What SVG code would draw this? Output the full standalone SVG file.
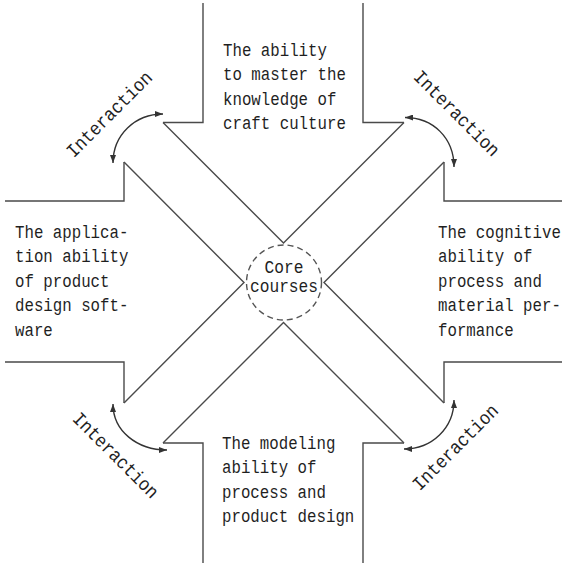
<svg xmlns="http://www.w3.org/2000/svg" width="562" height="563" viewBox="0 0 562 563">
  <style>
    .frame { fill: none; stroke: #4a4a4a; stroke-width: 1.4; stroke-linejoin: miter; }
    .band { fill: none; stroke: #4a4a4a; stroke-width: 1.4; }
    .arc { fill: none; stroke: #333; stroke-width: 1.4; marker-start: url(#ah); marker-end: url(#ah); }
    .txt { font-family: "Liberation Mono", "DejaVu Sans Mono", monospace; font-size: 19px; fill: #1f1f1f; }
    .lbl { font-family: "Liberation Mono", "DejaVu Sans Mono", monospace; font-size: 19px; fill: #1f1f1f; text-anchor: middle; dominant-baseline: central; }
    .core { fill: #fff; stroke: #555; stroke-width: 1.4; stroke-dasharray: 6 4; }
  </style>
  <defs>
    <marker id="ah" viewBox="0 0 8 6" refX="8" refY="3" markerWidth="8" markerHeight="6" markerUnits="userSpaceOnUse" orient="auto-start-reverse">
      <path d="M0,0 L8,3 L0,6 Z" fill="#333"/>
    </marker>
  </defs>
  <rect width="562" height="563" fill="#fff"/>

  <g id="frame">
    <path class="frame" d="M203,3 V122.5 H163"/>
    <path class="frame" d="M5,201 H124 V162"/>
    <path class="frame" d="M363,3 V122.5 H404"/>
    <path class="frame" d="M562,201 H444 V162"/>
    <path class="frame" d="M5,362 H124 V403"/>
    <path class="frame" d="M163,443 H203 V563"/>
    <path class="frame" d="M562,362 H444 V403"/>
    <path class="frame" d="M404,443 H363 V563"/>
  </g>

  <g id="connectors">
    <polyline class="band" points="163,122.5 283.5,243 404,122.5"/>
    <polyline class="band" points="444,162 324,282.5 444,403"/>
    <polyline class="band" points="163,443 283.5,322.5 404,443"/>
    <polyline class="band" points="124,162 244,282.5 124,403"/>
    <path class="arc" d="M113,163 C113,135 135,114 163,114"/>
    <path class="arc" d="M405,117.5 C433,117.5 454,138 454,167"/>
    <path class="arc" d="M113,404 C113,431 137,450 167,450"/>
    <path class="arc" d="M454,400 C454,428 432,449 404,449"/>
    <g transform="translate(110,115) rotate(-45) scale(0.9,1)"><text class="lbl" x="0" y="0">Interaction</text></g>
    <g transform="translate(456,114) rotate(45) scale(0.9,1)"><text class="lbl" x="0" y="0">Interaction</text></g>
    <g transform="translate(115,456) rotate(45) scale(0.9,1)"><text class="lbl" x="0" y="0">Interaction</text></g>
    <g transform="translate(456,448) rotate(-45) scale(0.9,1)"><text class="lbl" x="0" y="0">Interaction</text></g>
  </g>

  <g id="node-top" transform="translate(223,0) scale(0.83,1)">
    <text class="txt"><tspan x="0" y="56">The ability</tspan><tspan x="0" y="80.5">to master the</tspan><tspan x="0" y="105">knowledge of</tspan><tspan x="0" y="129.5">craft culture</tspan></text>
  </g>
  <g id="node-left" transform="translate(15,0) scale(0.83,1)">
    <text class="txt"><tspan x="0" y="238">The applica-</tspan><tspan x="0" y="262.5">tion ability</tspan><tspan x="0" y="287">of product</tspan><tspan x="0" y="311.5">design soft-</tspan><tspan x="0" y="336">ware</tspan></text>
  </g>
  <g id="node-right" transform="translate(438,0) scale(0.83,1)">
    <text class="txt"><tspan x="0" y="238">The cognitive</tspan><tspan x="0" y="262.5">ability of</tspan><tspan x="0" y="287">process and</tspan><tspan x="0" y="311.5">material per-</tspan><tspan x="0" y="336">formance</tspan></text>
  </g>
  <g id="node-bottom" transform="translate(222,0) scale(0.83,1)">
    <text class="txt"><tspan x="0" y="449">The modeling</tspan><tspan x="0" y="473.5">ability of</tspan><tspan x="0" y="498">process and</tspan><tspan x="0" y="522.5">product design</tspan></text>
  </g>
  <g id="node-core">
    <circle class="core" cx="284" cy="282.5" r="37.5"/>
    <g transform="translate(284,0) scale(0.9,1)">
      <text class="txt" style="font-size:18px;text-anchor:middle"><tspan x="0" y="273.5">Core</tspan><tspan x="0" y="292.5">courses</tspan></text>
    </g>
  </g>
</svg>
